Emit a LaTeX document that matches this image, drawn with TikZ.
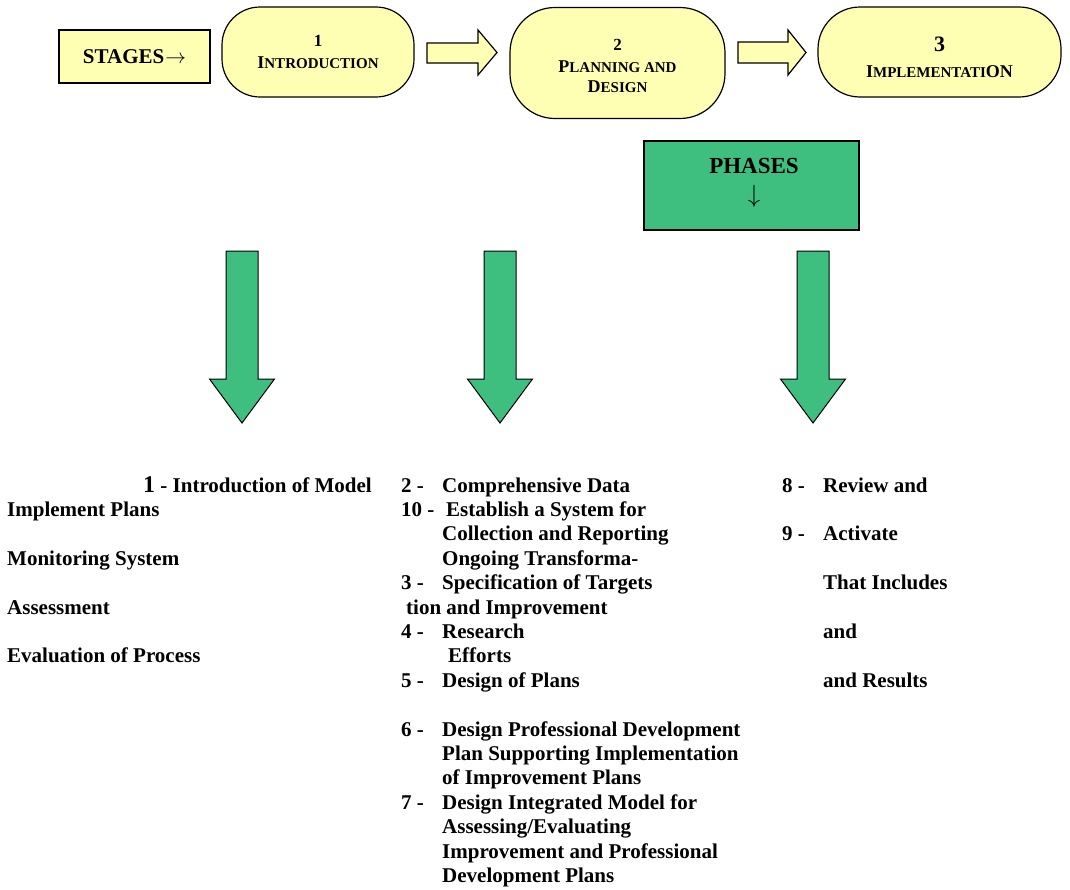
\documentclass[tikz,border=0pt]{standalone}
\usepackage{fontspec}
\setmainfont{Liberation Serif}
\definecolor{paleyellow}{HTML}{FFFFB3}
\definecolor{phasegreen}{HTML}{3FBF7F}
\newcommand\fakesc[2]{{\fontsize{18}{20}\selectfont #1}{\fontsize{15}{18}\selectfont #2}}
\begin{document}
\begin{tikzpicture}[x=1pt,y=-1pt,
  stagebox/.style={draw=black, line width=1.2pt, fill=paleyellow, align=center, inner sep=0pt},
  blockarrow/.style={draw=black, fill=paleyellow, line width=1.2pt, line join=miter},
  downarrow/.style={draw=black, fill=phasegreen, line width=1pt, line join=miter},
  body/.style={anchor=base west, inner sep=0pt, font={\bfseries\fontsize{21}{24}\selectfont}}]
\useasboundingbox (0,0) rectangle (1070,889);

% stages row
\node[draw=black, line width=1.2pt, fill=paleyellow, minimum width=151pt, minimum height=53pt, inner sep=0pt,
      font={\bfseries\fontsize{21}{24}\selectfont}] (stages) at (134.5,56.5) {STAGES\kern1pt$\rightarrow$};
\node[stagebox, rounded corners=38pt, minimum width=192pt, minimum height=90pt,
      font={\bfseries\fontsize{15}{21.5}\selectfont}] (intro) at (318,52)
  {{\fontsize{17}{21}\selectfont 1}\\\fakesc{I}{NTRODUCTION}};
\node[stagebox, rounded corners=45pt, minimum width=215pt, minimum height=111pt,
      font={\bfseries\fontsize{15}{21}\selectfont}] (plan) at (617.5,63)
  {\rule{0pt}{17pt}{\fontsize{17}{21}\selectfont 2}\\[1.5pt]\fakesc{P}{LANNING AND}\\[-1pt]\fakesc{D}{ESIGN}};
\node[stagebox, rounded corners=42pt, minimum width=243pt, minimum height=90pt,
      font={\bfseries\fontsize{15}{26}\selectfont}] (impl) at (939.5,52)
  {\rule{0pt}{26pt}{\fontsize{22}{26}\selectfont 3}\\\fakesc{I}{MPLEMENTATI}{\fontsize{18}{20}\selectfont ON}};

\draw[blockarrow] (427,43) -- (478,43) -- (478,30) -- (497,52.5) -- (478,75) -- (478,63) -- (427,63) -- cycle;
\draw[blockarrow] (738,42) -- (788,42) -- (788,30) -- (806,52.5) -- (788,75) -- (788,63) -- (738,63) -- cycle;

% phases
\node[draw=black, line width=1.2pt, fill=phasegreen, minimum width=215pt, minimum height=89pt, inner sep=0pt] (phases) at (751.5,185.5) {};
\node[align=center, inner sep=0pt, font={\bfseries\fontsize{23}{29}\selectfont}] (phasestext) at (754,183)
  {PHASES\\$\downarrow$};

% down arrows
\foreach \c/\n in {242/da1,500/da2,813/da3}
  \draw[downarrow] (\c-16,251) -- (\c+16,251) -- (\c+16,379) -- (\c+32.5,379) -- (\c,423) -- (\c-32.5,379) -- (\c-16,379) -- cycle;

% left column
\node[body] (l0) at (143,492) {{\fontsize{24}{24}\selectfont 1} - Introduction of Model};
\foreach \k/\t in {1/Implement Plans,3/Monitoring System,5/Assessment,7/Evaluation of Process}
  \node[body] (l\k) at (7,492+24.4*\k) {\t};

% middle column numbers
\foreach \k/\t in {0/2 -,1/10 -,4/3 -,6/4 -,8/5 -,10/6 -,13/7 -}
  \node[body] (mn\k) at (401,492+24.4*\k) {\t};
% middle column text
\foreach \k/\x/\t in {0/442/Comprehensive Data,1/446/Establish a System for,2/442/Collection and Reporting,
  3/442/Ongoing Transforma-,4/442/Specification of Targets,5/406/tion and Improvement,6/442/Research,
  7/448/Efforts,8/442/Design of Plans,10/442/Design Professional Development,11/442/Plan Supporting Implementation,
  12/442/of Improvement Plans,13/442/Design Integrated Model for,14/442/{Assessing/Evaluating},
  15/442/Improvement and Professional,16/442/Development Plans}
  \node[body] (mt\k) at (\x,492+24.4*\k) {\t};

% right column
\foreach \k/\t in {0/8 -,2/9 -}
  \node[body] (rn\k) at (782,492+24.4*\k) {\t};
\foreach \k/\t in {0/Review and,2/Activate,4/That Includes,6/and,8/and Results}
  \node[body] (rt\k) at (823,492+24.4*\k) {\t};
\end{tikzpicture}
\end{document}
